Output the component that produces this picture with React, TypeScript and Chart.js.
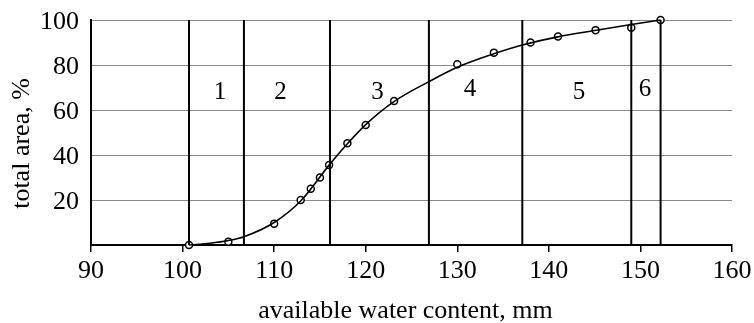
import React, { useEffect, useRef } from "react";
import { Chart, registerables } from "chart.js";

Chart.register(...registerables);

const pointX = [100.7, 105, 110, 112.9, 114, 115, 116, 118, 120, 123.1, 130, 134, 138, 141, 145.1, 149, 152.2];
const pointY = [0, 1.5, 9.5, 20, 25, 30, 35.6, 45.2, 53.3, 64, 80.3, 85.5, 90, 92.7, 95.5, 96.6, 100];

const curveX = [100.7, 103, 105, 106.7, 110, 113, 116, 118, 120, 123, 126.9, 130, 134, 137.1, 141, 145, 149, 152.2];
const curveY = [0, 0.8, 2, 3.7, 10, 20, 35.5, 45, 53.5, 63.5, 72.6, 79, 85, 88.9, 92.5, 95.3, 98, 100];

const boundaries = [100.7, 106.7, 116.1, 126.9, 137.1, 149.0, 152.2];

const zoneLabels = ["1", "2", "3", "4", "5", "6"];
const zoneLabelX = [104.1, 110.7, 121.3, 131.4, 143.3, 150.5];
const zoneLabelY = [68, 68, 68, 69, 68, 69];

const xTickValues = [90, 100, 110, 120, 130, 140, 150, 160];
const yTickValues = [20, 40, 60, 80, 100];

const yTitle = "total area, %";
const xTitle = "available water content, mm";

const FONT = "'Liberation Serif', 'Times New Roman', serif";

const textPlugin = {
  id: "textLabels",
  afterDatasetsDraw(chart: any) {
    const { ctx, scales, chartArea } = chart;
    ctx.save();
    ctx.fillStyle = "#000";
    ctx.font = `25px ${FONT}`;
    ctx.textAlign = "center";
    ctx.textBaseline = "middle";
    zoneLabels.forEach((t, i) => {
      ctx.fillText(t, scales.x.getPixelForValue(zoneLabelX[i]), scales.y.getPixelForValue(zoneLabelY[i]));
    });
    // x axis title
    ctx.font = `26px ${FONT}`;
    ctx.textBaseline = "alphabetic";
    ctx.fillText(xTitle, (chartArea.left + chartArea.right) / 2 - 6, chartArea.bottom + 73);
    // y axis title
    ctx.textBaseline = "middle";
    ctx.translate(chartArea.left - 69, (chartArea.top + chartArea.bottom) / 2 + 11);
    ctx.rotate(-Math.PI / 2);
    ctx.fillText(yTitle, 0, 0);
    ctx.restore();
  },
};

export default function App() {
  const ref = useRef<HTMLCanvasElement>(null);
  useEffect(() => {
    if (!ref.current) return;
    const boundaryDatasets = boundaries.map((b) => ({
      type: "line" as const,
      data: [
        { x: b, y: 0 },
        { x: b, y: 100 },
      ],
      borderColor: "#000",
      borderWidth: 2,
      pointRadius: 0,
      tension: 0,
    }));
    const chart = new Chart(ref.current, {
      type: "scatter",
      data: {
        datasets: [
          ...boundaryDatasets,
          {
            type: "line" as const,
            data: curveX.map((x, i) => ({ x, y: curveY[i] })),
            borderColor: "#000",
            borderWidth: 1.6,
            pointRadius: 0,
            cubicInterpolationMode: "monotone",
            clip: false,
          },
          {
            type: "scatter" as const,
            data: pointX.map((x, i) => ({ x, y: pointY[i] })),
            backgroundColor: "#fff",
            borderColor: "#000",
            borderWidth: 1.5,
            pointRadius: 3.5,
            pointStyle: "circle",
            clip: false,
          },
        ] as any,
      },
      options: {
        animation: false,
        responsive: false,
        maintainAspectRatio: false,
        layout: { padding: { left: 0, right: 22, top: 20, bottom: 0 } },
        plugins: { legend: { display: false }, tooltip: { enabled: false } },
        scales: {
          x: {
            type: "linear",
            min: 90,
            max: 160,
            afterBuildTicks: (s: any) => {
              s.ticks = xTickValues.map((v) => ({ value: v }));
            },
            afterFit: (s: any) => {
              s.height = 78;
              s.paddingLeft = 0;
              s.paddingRight = 0;
            },
            ticks: { color: "#000", font: { family: FONT, size: 26 }, padding: 4, maxRotation: 0 },
            grid: { drawOnChartArea: false, drawTicks: true, tickLength: 7, color: "#000", lineWidth: 1.5 },
            border: { display: true, color: "#000", width: 2 },
          },
          y: {
            type: "linear",
            min: 0,
            max: 100,
            afterBuildTicks: (s: any) => {
              s.ticks = yTickValues.map((v) => ({ value: v }));
            },
            afterFit: (s: any) => {
              s.width = 91;
              s.paddingTop = 0;
              s.paddingBottom = 0;
            },
            ticks: { color: "#000", font: { family: FONT, size: 26 }, padding: 12, labelOffset: 2 },
            grid: { drawTicks: false, color: "#8a8a8a", lineWidth: 1 },
            border: { display: true, color: "#000", width: 2 },
          },
        },
      },
      plugins: [textPlugin],
    });
    return () => chart.destroy();
  }, []);
  return (
    <div style={{ position: "absolute", left: 0, top: 0, width: 754, height: 323, background: "#fff" }}>
      <canvas ref={ref} width={754} height={323} style={{ width: 754, height: 323 }} />
    </div>
  );
}
